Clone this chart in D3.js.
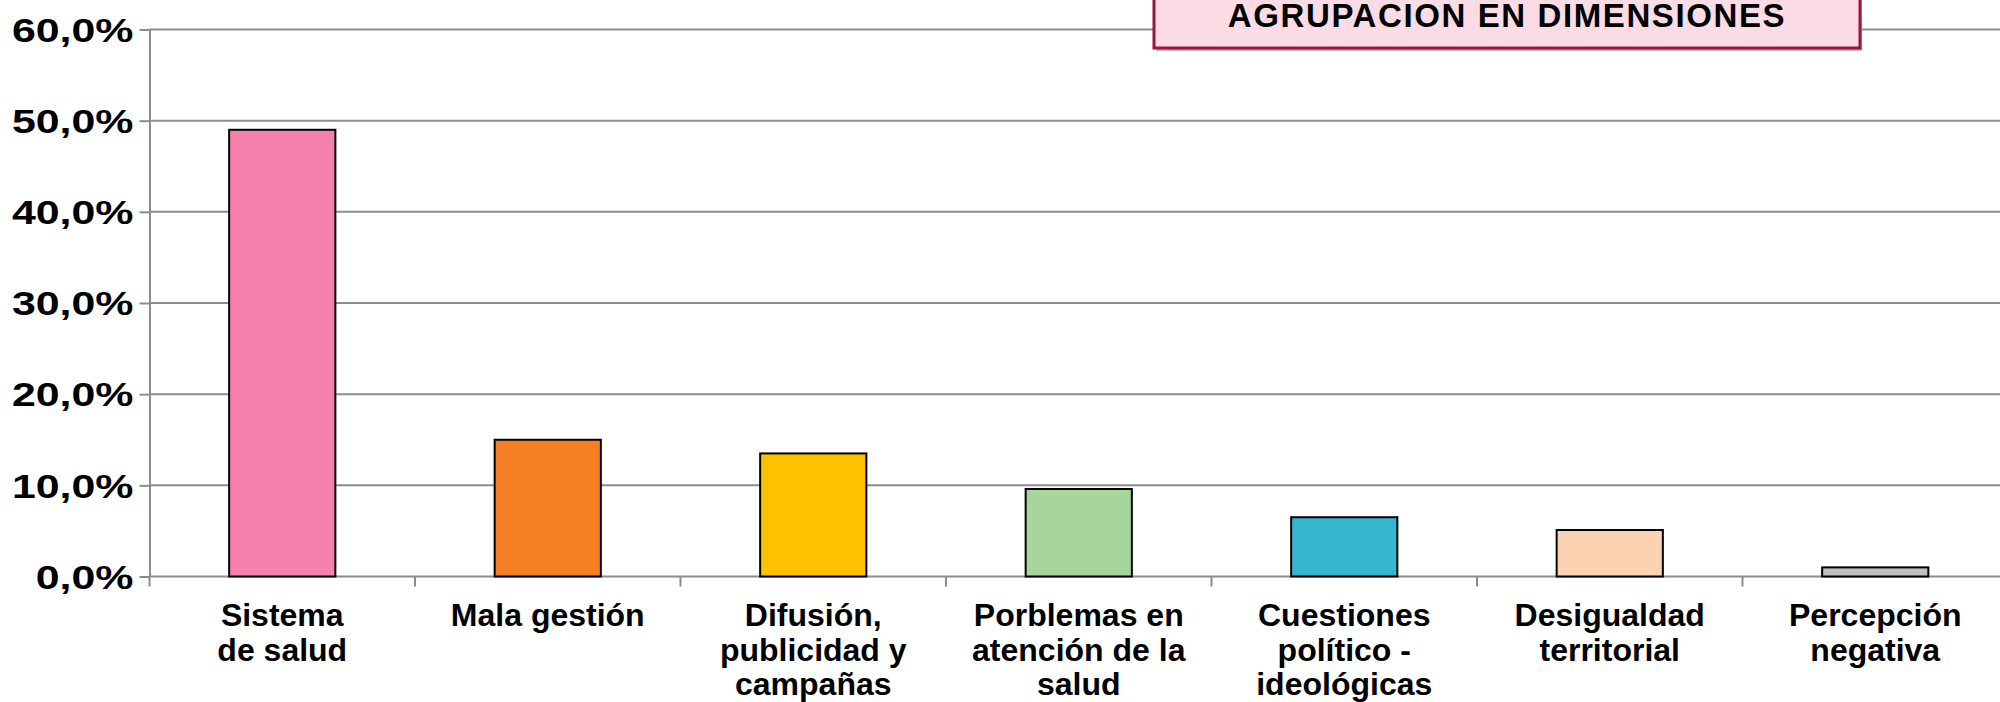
<!DOCTYPE html>
<html>
<head>
<meta charset="utf-8">
<script src="https://cdn.jsdelivr.net/npm/d3@7"></script>
<style>
  body { margin: 0; background: #fff; }
  svg { display: block; }
</style>
</head>
<body>
<svg id="chart"></svg>
<script>
// Chart data
const categories = ["Sistema de salud", "Mala gestión", "Difusión, publicidad y campañas",
  "Porblemas en atención de la salud", "Cuestiones político - ideológicas",
  "Desigualdad territorial", "Percepción negativa"];
const labelLines = [["Sistema", "de salud"], ["Mala gestión"], ["Difusión,", "publicidad y", "campañas"],
  ["Porblemas en", "atención de la", "salud"], ["Cuestiones", "político -", "ideológicas"],
  ["Desigualdad", "territorial"], ["Percepción", "negativa"]];
const values = [49.0, 15.0, 13.5, 9.6, 6.5, 5.1, 1.0];
const barColors = ["#F582AD", "#F58024", "#FFC000", "#A8D59C", "#36B5CF", "#FCD2B1", "#BFBFBF"];
const yTicks = [0, 10, 20, 30, 40, 50, 60];
const title = "AGRUPACION EN DIMENSIONES";

const W = 2000, H = 702;
const plot = { left: 149.5, right: 2008, top: 29.5, bottom: 576.5 };

const svg = d3.select("#chart")
    .attr("width", W)
    .attr("height", H);

const x = d3.scaleBand()
    .domain(categories)
    .range([plot.left, plot.right])
    .paddingInner(0.6)
    .paddingOuter(0.3);

const y = d3.scaleLinear()
    .domain([0, 60])
    .range([plot.bottom, plot.top]);

// Gridlines
svg.append("g")
    .selectAll("line")
    .data(yTicks)
    .enter().append("line")
    .attr("x1", plot.left)
    .attr("x2", W)
    .attr("y1", d => y(d))
    .attr("y2", d => y(d))
    .attr("stroke", "#8c8c8c")
    .attr("stroke-width", 2);

// Y axis
const fmt = d => d3.format(".1f")(d).replace(".", ",") + "%";
const yAxis = svg.append("g")
    .attr("transform", `translate(${plot.left},0)`)
    .call(d3.axisLeft(y).tickValues(yTicks).tickFormat(fmt).tickSize(10).tickSizeOuter(0).tickPadding(6));
yAxis.select(".domain").attr("stroke", "#8c8c8c").attr("stroke-width", 2);
yAxis.selectAll(".tick line").attr("stroke", "#8c8c8c").attr("stroke-width", 2);
// labels are drawn wide in the original, so stretch them horizontally
yAxis.selectAll(".tick text")
    .attr("x", 0)
    .attr("transform", "translate(-16,0) scale(1.32,1)")
    .attr("font-family", "Liberation Sans, Arial, sans-serif")
    .attr("font-weight", "bold")
    .attr("font-size", 32.5)
    .attr("dy", "0.36em")
    .attr("fill", "#000");

// X axis ticks at band boundaries
const bounds = categories.map(c => x(c) - x.step() * 0.3);
bounds.push(plot.right);
svg.append("g")
    .selectAll("line")
    .data(bounds)
    .enter().append("line")
    .attr("x1", d => d)
    .attr("x2", d => d)
    .attr("y1", plot.bottom)
    .attr("y2", plot.bottom + 10)
    .attr("stroke", "#8c8c8c")
    .attr("stroke-width", 2);

// Bars
svg.append("g")
    .selectAll("rect")
    .data(values)
    .enter().append("rect")
    .attr("x", (d, i) => x(categories[i]))
    .attr("width", x.bandwidth())
    .attr("y", d => y(d))
    .attr("height", d => y(0) - y(d))
    .attr("fill", (d, i) => barColors[i])
    .attr("stroke", "#000")
    .attr("stroke-width", 2);

// Category labels
const lbl = svg.append("g")
    .selectAll("text")
    .data(labelLines)
    .enter().append("text")
    .attr("x", (d, i) => x(categories[i]) + x.bandwidth() / 2)
    .attr("y", 626)
    .attr("text-anchor", "middle")
    .attr("font-family", "Liberation Sans, Arial, sans-serif")
    .attr("font-weight", "bold")
    .attr("font-size", 32)
    .attr("fill", "#000");
lbl.selectAll("tspan")
    .data(d => d)
    .enter().append("tspan")
    .attr("x", function() { return d3.select(this.parentNode).attr("x"); })
    .attr("dy", (d, i) => i === 0 ? 0 : 34.5)
    .text(d => d);

// Title box
const box = { x: 1154, y: -10, w: 706, h: 58 };
svg.append("rect")
    .attr("x", box.x + 2).attr("y", box.y + 3)
    .attr("width", box.w).attr("height", box.h)
    .attr("fill", "#b9b9b9");
svg.append("rect")
    .attr("x", box.x).attr("y", box.y)
    .attr("width", box.w).attr("height", box.h)
    .attr("fill", "#FCDCE4")
    .attr("stroke", "#A0143C")
    .attr("stroke-width", 3);
svg.append("text")
    .attr("x", box.x + box.w / 2)
    .attr("y", 27)
    .attr("text-anchor", "middle")
    .attr("font-family", "Liberation Sans, Arial, sans-serif")
    .attr("font-weight", "bold")
    .attr("font-size", 33)
    .attr("letter-spacing", 1.6)
    .attr("fill", "#000")
    .text(title);
</script>
</body>
</html>
